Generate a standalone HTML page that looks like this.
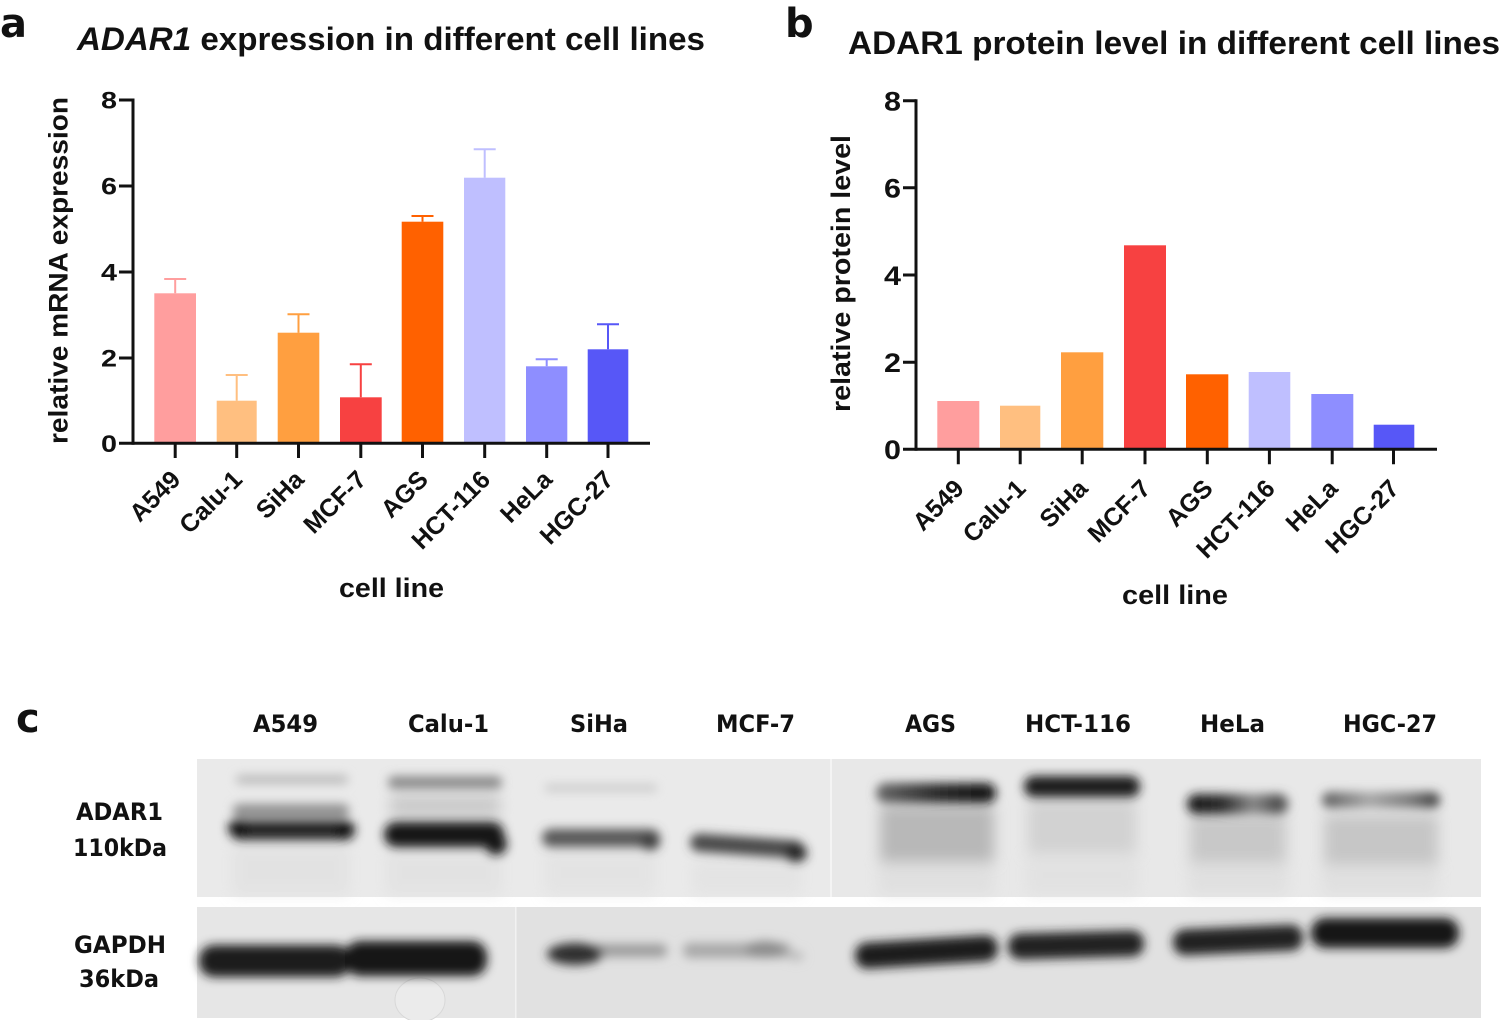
<!DOCTYPE html>
<html>
<head>
<meta charset="utf-8">
<style>
html,body{margin:0;padding:0;background:#fff;}
svg{display:block;}
text{font-family:"Liberation Sans",Arial,sans-serif;font-weight:bold;fill:#111;}
.ob{font-family:"DejaVu Sans","Liberation Sans",sans-serif;font-weight:bold;}
</style>
</head>
<body>
<svg width="1502" height="1020" viewBox="0 0 1502 1020" xmlns="http://www.w3.org/2000/svg">
<defs>
  <filter id="bl" x="-20%" y="-100%" width="140%" height="300%"><feGaussianBlur stdDeviation="5"/></filter>
  <filter id="bl2" x="-20%" y="-80%" width="140%" height="260%"><feGaussianBlur stdDeviation="7"/></filter>
  <linearGradient id="gAGS" x1="0" x2="1" y1="0" y2="0">
    <stop offset="0" stop-color="#6a6a6a"/><stop offset="0.5" stop-color="#2a2a2a"/><stop offset="1" stop-color="#0e0e0e"/>
  </linearGradient>
  <linearGradient id="gHeLa" x1="0" x2="1" y1="0" y2="0">
    <stop offset="0" stop-color="#181818"/><stop offset="0.35" stop-color="#2a2a2a"/><stop offset="0.65" stop-color="#8a8a8a"/><stop offset="0.9" stop-color="#4a4a4a"/><stop offset="1" stop-color="#7a7a7a"/>
  </linearGradient>
  <linearGradient id="gHGC" x1="0" x2="1" y1="0" y2="0">
    <stop offset="0" stop-color="#5a5a5a"/><stop offset="0.4" stop-color="#a8a8a8"/><stop offset="0.75" stop-color="#7a7a7a"/><stop offset="1" stop-color="#3a3a3a"/>
  </linearGradient>
</defs>
<rect x="0" y="0" width="1502" height="1020" fill="#fff"/>

<!-- ============ PANEL A ============ -->
<text class="ob" x="0" y="37" font-size="40">a</text>
<text x="77" y="50" font-size="32" textLength="628" lengthAdjust="spacingAndGlyphs"><tspan font-style="italic">ADAR1</tspan> expression in different cell lines</text>

<g>
  <rect x="154.3" y="293.3" width="41.7" height="150" fill="#FF9E9E"/>
  <rect x="216.7" y="400.7" width="40" height="42.6" fill="#FFBF80"/>
  <rect x="277.7" y="332.7" width="41.6" height="110.6" fill="#FF9F40"/>
  <rect x="340" y="397.3" width="41.7" height="46" fill="#F74141"/>
  <rect x="401.7" y="221.7" width="41.6" height="221.6" fill="#FF6100"/>
  <rect x="464" y="177.7" width="41.3" height="265.6" fill="#BFBFFF"/>
  <rect x="526" y="366.3" width="41.3" height="77" fill="#8E8EFF"/>
  <rect x="587.7" y="349.3" width="40.6" height="94" fill="#5757F7"/>
</g>
<g stroke-width="2" fill="none">
  <path d="M175.2 293.3V279M164.2 279H186.2" stroke="#FF9E9E"/>
  <path d="M236.7 400.7V375M225.7 375H247.7" stroke="#FFBF80"/>
  <path d="M298.5 332.7V314.3M287.5 314.3H309.5" stroke="#FF9F40"/>
  <path d="M360.8 397.3V364.3M349.8 364.3H371.8" stroke="#F74141"/>
  <path d="M422.5 221.7V216M411.5 216H433.5" stroke="#FF6100"/>
  <path d="M484.7 177.7V149.3M473.7 149.3H495.7" stroke="#BFBFFF"/>
  <path d="M546.7 366.3V359.3M535.7 359.3H557.7" stroke="#8E8EFF"/>
  <path d="M608 349.3V324.3M597 324.3H619" stroke="#5757F7"/>
</g>
<g stroke="#111" stroke-width="3" fill="none">
  <path d="M133 98.5V444.8"/>
  <path d="M119 443.3H650"/>
  <path d="M119 100H133M119 186H133M119 272H133M119 358H133"/>
  <path d="M175.2 443.3V458M236.7 443.3V458M298.5 443.3V458M360.8 443.3V458M422.5 443.3V458M484.7 443.3V458M546.7 443.3V458M608 443.3V458"/>
</g>
<g font-size="24" text-anchor="end">
  <text x="117" y="108.5" textLength="16" lengthAdjust="spacingAndGlyphs">8</text>
  <text x="117" y="194.5" textLength="16" lengthAdjust="spacingAndGlyphs">6</text>
  <text x="117" y="280.5" textLength="16" lengthAdjust="spacingAndGlyphs">4</text>
  <text x="117" y="366.5" textLength="16" lengthAdjust="spacingAndGlyphs">2</text>
  <text x="117" y="452" textLength="16" lengthAdjust="spacingAndGlyphs">0</text>
</g>
<text transform="translate(67.5,270.5) rotate(-90)" font-size="27" text-anchor="middle" textLength="347" lengthAdjust="spacingAndGlyphs">relative mRNA expression</text>
<g font-size="25" text-anchor="end">
  <text transform="translate(182,481) rotate(-45)">A549</text>
  <text transform="translate(243.7,481) rotate(-45)">Calu-1</text>
  <text transform="translate(305.5,481) rotate(-45)">SiHa</text>
  <text transform="translate(367.8,481) rotate(-45)">MCF-7</text>
  <text transform="translate(429.5,481) rotate(-45)">AGS</text>
  <text transform="translate(491.7,481) rotate(-45)">HCT-116</text>
  <text transform="translate(553.7,481) rotate(-45)">HeLa</text>
  <text transform="translate(615,481) rotate(-45)">HGC-27</text>
</g>
<text x="391.5" y="597" font-size="27" text-anchor="middle" textLength="105" lengthAdjust="spacingAndGlyphs">cell line</text>

<!-- ============ PANEL B ============ -->
<text class="ob" x="785" y="37" font-size="40">b</text>
<text x="848" y="54" font-size="32" textLength="652" lengthAdjust="spacingAndGlyphs">ADAR1 protein level in different cell lines</text>

<g>
  <rect x="937.3" y="401" width="42" height="48.3" fill="#FF9E9E"/>
  <rect x="1000" y="405.7" width="40.3" height="43.6" fill="#FFBF80"/>
  <rect x="1061" y="352.3" width="42.3" height="97" fill="#FF9F40"/>
  <rect x="1124" y="245.3" width="42" height="204" fill="#F74141"/>
  <rect x="1186" y="374.3" width="42.3" height="75" fill="#FF6100"/>
  <rect x="1248.7" y="372" width="41.6" height="77.3" fill="#BFBFFF"/>
  <rect x="1311.3" y="394" width="42" height="55.3" fill="#8E8EFF"/>
  <rect x="1373.7" y="424.7" width="40.6" height="24.6" fill="#5757F7"/>
</g>
<g stroke="#111" stroke-width="3" fill="none">
  <path d="M916 99.2V450.8"/>
  <path d="M903 449.3H1437"/>
  <path d="M903 100.7H916M903 187.8H916M903 275H916M903 362.2H916"/>
  <path d="M958.3 449.3V464.3M1020.2 449.3V464.3M1082.2 449.3V464.3M1145 449.3V464.3M1207.3 449.3V464.3M1269.4 449.3V464.3M1332.2 449.3V464.3M1393.5 449.3V464.3"/>
</g>
<g font-size="27" text-anchor="end">
  <text x="901" y="110.5" textLength="17" lengthAdjust="spacingAndGlyphs">8</text>
  <text x="901" y="197.6" textLength="17" lengthAdjust="spacingAndGlyphs">6</text>
  <text x="901" y="284.8" textLength="17" lengthAdjust="spacingAndGlyphs">4</text>
  <text x="901" y="372" textLength="17" lengthAdjust="spacingAndGlyphs">2</text>
  <text x="901" y="459.1" textLength="17" lengthAdjust="spacingAndGlyphs">0</text>
</g>
<text transform="translate(850,273.5) rotate(-90)" font-size="27" text-anchor="middle" textLength="277" lengthAdjust="spacingAndGlyphs">relative protein level</text>
<g font-size="25" text-anchor="end">
  <text transform="translate(965.3,490) rotate(-45)">A549</text>
  <text transform="translate(1027.2,490) rotate(-45)">Calu-1</text>
  <text transform="translate(1089.2,490) rotate(-45)">SiHa</text>
  <text transform="translate(1152,490) rotate(-45)">MCF-7</text>
  <text transform="translate(1214.3,490) rotate(-45)">AGS</text>
  <text transform="translate(1276.4,490) rotate(-45)">HCT-116</text>
  <text transform="translate(1339.2,490) rotate(-45)">HeLa</text>
  <text transform="translate(1400.5,490) rotate(-45)">HGC-27</text>
</g>
<text x="1175" y="604" font-size="27" text-anchor="middle" textLength="106" lengthAdjust="spacingAndGlyphs">cell line</text>

<!-- ============ PANEL C ============ -->
<text class="ob" x="16" y="732" font-size="40">c</text>
<g class="ob" font-size="24">
  <text class="ob" x="253" y="732" textLength="65" lengthAdjust="spacingAndGlyphs">A549</text>
  <text class="ob" x="408" y="732" textLength="81" lengthAdjust="spacingAndGlyphs">Calu-1</text>
  <text class="ob" x="570" y="732" textLength="58" lengthAdjust="spacingAndGlyphs">SiHa</text>
  <text class="ob" x="716" y="732" textLength="79" lengthAdjust="spacingAndGlyphs">MCF-7</text>
  <text class="ob" x="905" y="732" textLength="51" lengthAdjust="spacingAndGlyphs">AGS</text>
  <text class="ob" x="1025" y="732" textLength="106" lengthAdjust="spacingAndGlyphs">HCT-116</text>
  <text class="ob" x="1200" y="732" textLength="65" lengthAdjust="spacingAndGlyphs">HeLa</text>
  <text class="ob" x="1343" y="732" textLength="94" lengthAdjust="spacingAndGlyphs">HGC-27</text>
  <text class="ob" x="76" y="820" textLength="87" lengthAdjust="spacingAndGlyphs">ADAR1</text>
  <text class="ob" x="73" y="856" textLength="94" lengthAdjust="spacingAndGlyphs">110kDa</text>
  <text class="ob" x="74" y="953" textLength="92" lengthAdjust="spacingAndGlyphs">GAPDH</text>
  <text class="ob" x="79" y="987" textLength="80" lengthAdjust="spacingAndGlyphs">36kDa</text>
</g>

<!-- blot upper -->
<rect x="197" y="759" width="634" height="138" fill="#eaeaea"/>
<rect x="831" y="759" width="650" height="138" fill="#e8e8e8"/>
<rect x="830" y="759" width="2" height="138" fill="#f4f4f4"/>
<g filter="url(#bl2)" opacity="0.5">
  <rect x="232" y="845" width="118" height="50" fill="#dcdcdc"/>
  <rect x="386" y="850" width="116" height="45" fill="#dcdcdc"/>
  <rect x="544" y="850" width="112" height="45" fill="#dedede"/>
  <rect x="692" y="860" width="110" height="35" fill="#dedede"/>
  <rect x="878" y="860" width="116" height="35" fill="#d8d8d8"/>
  <rect x="1026" y="855" width="112" height="40" fill="#dcdcdc"/>
  <rect x="1188" y="860" width="100" height="35" fill="#d8d8d8"/>
  <rect x="1322" y="862" width="116" height="33" fill="#d8d8d8"/>
</g>
<g filter="url(#bl2)">
  <rect x="880" y="806" width="114" height="56" fill="#b8b8b8"/>
  <rect x="1028" y="800" width="108" height="54" fill="#d2d2d2"/>
  <rect x="1190" y="815" width="96" height="48" fill="#c8c8c8"/>
  <rect x="1324" y="815" width="114" height="50" fill="#c6c6c6"/>
  <rect x="390" y="795" width="110" height="22" fill="#cacaca"/>
</g>
<g filter="url(#bl)">
  <!-- A549 -->
  <rect x="236" y="775" width="112" height="9" rx="4" fill="#bcbcbc"/>
  <rect x="233" y="804" width="116" height="14" rx="6" fill="#909090"/>
  <rect x="230" y="820" width="122" height="20" rx="10" fill="#262626"/>
  <ellipse cx="238" cy="828" rx="10" ry="9" fill="#151515"/>
  <ellipse cx="345" cy="830" rx="10" ry="10" fill="#151515"/>
  <!-- Calu-1 -->
  <rect x="388" y="776" width="114" height="13" rx="6" fill="#8c8c8c"/>
  <rect x="384" y="822" width="120" height="25" rx="12" fill="#171717"/>
  <ellipse cx="496" cy="844" rx="11" ry="11" fill="#151515"/>
  <!-- SiHa -->
  <rect x="545" y="784" width="112" height="8" rx="3" fill="#cdcdcd"/>
  <rect x="542" y="829" width="118" height="18" rx="9" fill="#585858"/>
  <ellipse cx="650" cy="842" rx="10" ry="8" fill="#3e3e3e"/>
  <!-- MCF-7 -->
  <rect x="690" y="837" width="114" height="18" rx="9" fill="#484848" transform="rotate(4 747 846)"/>
  <ellipse cx="796" cy="853" rx="11" ry="9" fill="#252525"/>
  <!-- AGS -->
  <rect x="876" y="783" width="120" height="20" rx="10" fill="url(#gAGS)"/>
  <!-- HCT-116 -->
  <rect x="1024" y="776" width="116" height="21" rx="10" fill="#1e1e1e"/>
  <!-- HeLa -->
  <rect x="1187" y="794" width="102" height="20" rx="10" fill="url(#gHeLa)"/>
  <!-- HGC-27 -->
  <rect x="1322" y="792" width="118" height="16" rx="8" fill="url(#gHGC)"/>
</g>

<!-- blot lower -->
<rect x="197" y="907" width="318" height="111" fill="#e6e6e6"/>
<rect x="515" y="907" width="966" height="111" fill="#e1e1e1"/>
<rect x="515" y="907" width="1.5" height="111" fill="#f2f2f2"/>
<ellipse cx="420" cy="1000" rx="25" ry="22" fill="#ebebeb" stroke="#d8d8d8" stroke-width="1"/>
<g filter="url(#bl)">
  <rect x="199" y="945" width="152" height="32" rx="15" fill="#1b1b1b"/>
  <rect x="345" y="941" width="142" height="35" rx="15" fill="#191919"/>
  <rect x="585" y="944" width="82" height="13" rx="6" fill="#9c9c9c"/>
  <ellipse cx="575" cy="954" rx="28" ry="11" fill="#2e2e2e"/>
  <rect x="683" y="943" width="108" height="15" rx="7" fill="#a8a8a8"/>
  <ellipse cx="765" cy="949" rx="20" ry="8" fill="#8c8c8c"/>
  <ellipse cx="796" cy="956" rx="8" ry="5" fill="#bdbdbd"/>
  <rect x="855" y="939" width="143" height="26" rx="12" fill="#1e1e1e" transform="rotate(-3.5 926 952)"/>
  <rect x="1008" y="932" width="136" height="26" rx="12" fill="#202020" transform="rotate(-1.5 1076 945)"/>
  <rect x="1173" y="927" width="130" height="26" rx="12" fill="#222" transform="rotate(-2.5 1238 940)"/>
  <rect x="1311" y="918" width="148" height="30" rx="14" fill="#181818"/>
</g>
</svg>
</body>
</html>
